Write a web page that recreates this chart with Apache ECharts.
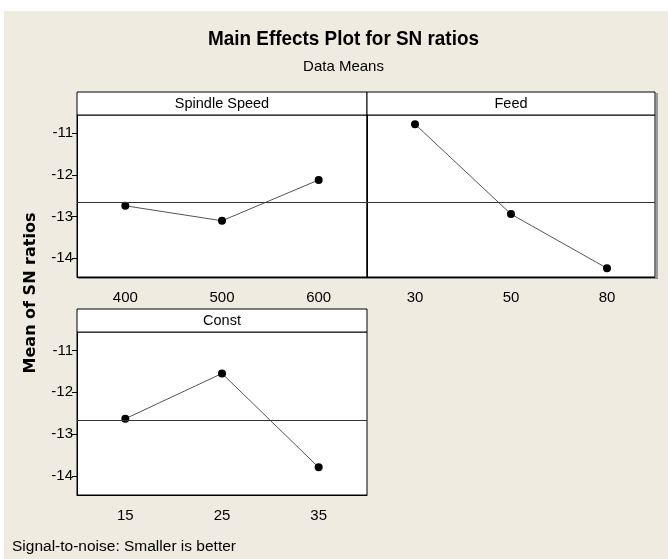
<!DOCTYPE html>
<html>
<head>
<meta charset="utf-8">
<script src="https://cdn.jsdelivr.net/npm/echarts@6/dist/echarts.min.js"></script>
<style>
    html, body {
        margin: 0;
        padding: 0;
        background: #fff;
    }
</style>
</head>
<body>
<div id="myEcharts" style="width:668px; height:559px"></div>
<script>
// factor levels and mean SN ratios
const speedLevels = ['400', '500', '600'];
const speedMeans = [-12.74, -13.10, -12.12];
const feedLevels = ['30', '50', '80'];
const feedMeans = [-10.78, -12.94, -14.24];
const constLevels = ['15', '25', '35'];
const constMeans = [-12.63, -11.55, -13.79];
const yTicks = [-14, -13, -12, -11];

const panelTitles = ['Spindle Speed', 'Feed', 'Const'];
const font = 'Liberation Sans, Arial, sans-serif';
const yMin = -14.45;
const yMax = -10.56;

const grids = [
    { left: 77, top: 115, width: 290, height: 162 },
    { left: 367, top: 115, width: 288, height: 162 },
    { left: 77, top: 332, width: 290, height: 163 }
];

function makeX(i, data) {
    return {
        type: 'category',
        gridIndex: i,
        data: data,
        boundaryGap: true,
        axisLine: { lineStyle: { color: '#000', width: 1 } },
        axisTick: { alignWithLabel: true, length: 4, lineStyle: { color: '#000' } },
        axisLabel: { color: '#000', fontFamily: font, fontSize: 15, margin: 13 }
    };
}

function makeY(i, showLabels) {
    return {
        type: 'value',
        gridIndex: i,
        min: yMin,
        max: yMax,
        splitLine: { show: false },
        axisLine: { show: true, lineStyle: { color: '#000', width: 1 } },
        axisTick: { show: showLabels, length: 5, customValues: yTicks, lineStyle: { color: '#000' } },
        axisLabel: {
            show: showLabels,
            customValues: yTicks,
            color: '#000',
            fontFamily: font,
            fontSize: 15,
            margin: 4
        }
    };
}

function makeSeries(i, data) {
    return {
        type: 'line',
        xAxisIndex: i,
        yAxisIndex: i,
        data: data,
        symbol: 'circle',
        symbolSize: 8,
        itemStyle: { color: '#000' },
        lineStyle: { color: '#555', width: 1 },
        markLine: {
            silent: true,
            symbol: ['none', 'none'],
            label: { show: false },
            lineStyle: { color: '#333', width: 1, type: 'solid' },
            data: [{ type: 'average' }]
        }
    };
}

// header strips above each panel
const headers = [];
[
    { x: 77, y: 92, w: 290 },
    { x: 367, y: 92, w: 288 },
    { x: 77, y: 309, w: 290 }
].forEach((h, i) => {
    headers.push({
        type: 'rect',
        shape: { x: h.x, y: h.y, width: h.w, height: 23 },
        style: { fill: '#fff', stroke: '#000', lineWidth: 1 }
    });
    headers.push({
        type: 'text',
        x: h.x + h.w / 2,
        y: h.y + 12,
        style: {
            text: panelTitles[i],
            fill: '#000',
            font: '14.5px ' + font,
            textAlign: 'center',
            textVerticalAlign: 'middle'
        }
    });
});

const option = {
    backgroundColor: '#efebe1',
    animation: false,
    title: {
        text: 'Signal-to-noise: Smaller is better',
        left: 12,
        top: 539,
        padding: 0,
        textStyle: {
            fontFamily: font,
            fontWeight: 'normal',
            fontSize: 15.5,
            lineHeight: 16,
            color: '#000'
        }
    },
    grid: grids.map(g => Object.assign({
        show: true,
        backgroundColor: '#fff',
        borderColor: '#000',
        borderWidth: 1
    }, g)),
    xAxis: [makeX(0, speedLevels), makeX(1, feedLevels), makeX(2, constLevels)],
    yAxis: [makeY(0, true), makeY(1, false), makeY(2, true)],
    series: [makeSeries(0, speedMeans), makeSeries(1, feedMeans), makeSeries(2, constMeans)],
    graphic: [
        // white margin strips of the original screenshot
        { type: 'rect', shape: { x: 0, y: 0, width: 668, height: 11 }, style: { fill: '#fff' } },
        { type: 'rect', shape: { x: 0, y: 0, width: 4, height: 559 }, style: { fill: '#fff' } },
        // soft shadows on the right/bottom of the top panels
        { type: 'rect', shape: { x: 656, y: 93, width: 2, height: 186 }, style: { fill: '#9a9a9a' } },
        { type: 'rect', shape: { x: 78, y: 278, width: 580, height: 1 }, style: { fill: '#8a8a8a' } },
        {
            // condensed bold title, squeezed to the width of the original
            type: 'text',
            x: 343.5,
            y: 39,
            scaleX: 0.9,
            style: {
                text: 'Main Effects Plot for SN ratios',
                fill: '#000',
                font: 'bold 21px ' + font,
                textAlign: 'center',
                textVerticalAlign: 'middle'
            }
        },
        {
            type: 'text',
            x: 343.5,
            y: 67,
            style: {
                text: 'Data Means',
                fill: '#000',
                font: '15px ' + font,
                textAlign: 'center',
                textVerticalAlign: 'middle'
            }
        },
        {
            type: 'text',
            x: 31,
            y: 293,
            rotation: Math.PI / 2,
            style: {
                text: 'Mean of SN ratios',
                fill: '#000',
                font: 'bold 16px DejaVu Sans, Verdana, sans-serif',
                textAlign: 'center',
                textVerticalAlign: 'middle'
            }
        }
    ].concat(headers)
};

let chart = echarts.init(document.getElementById('myEcharts'));
chart.setOption(option);
</script>
</body>
</html>
